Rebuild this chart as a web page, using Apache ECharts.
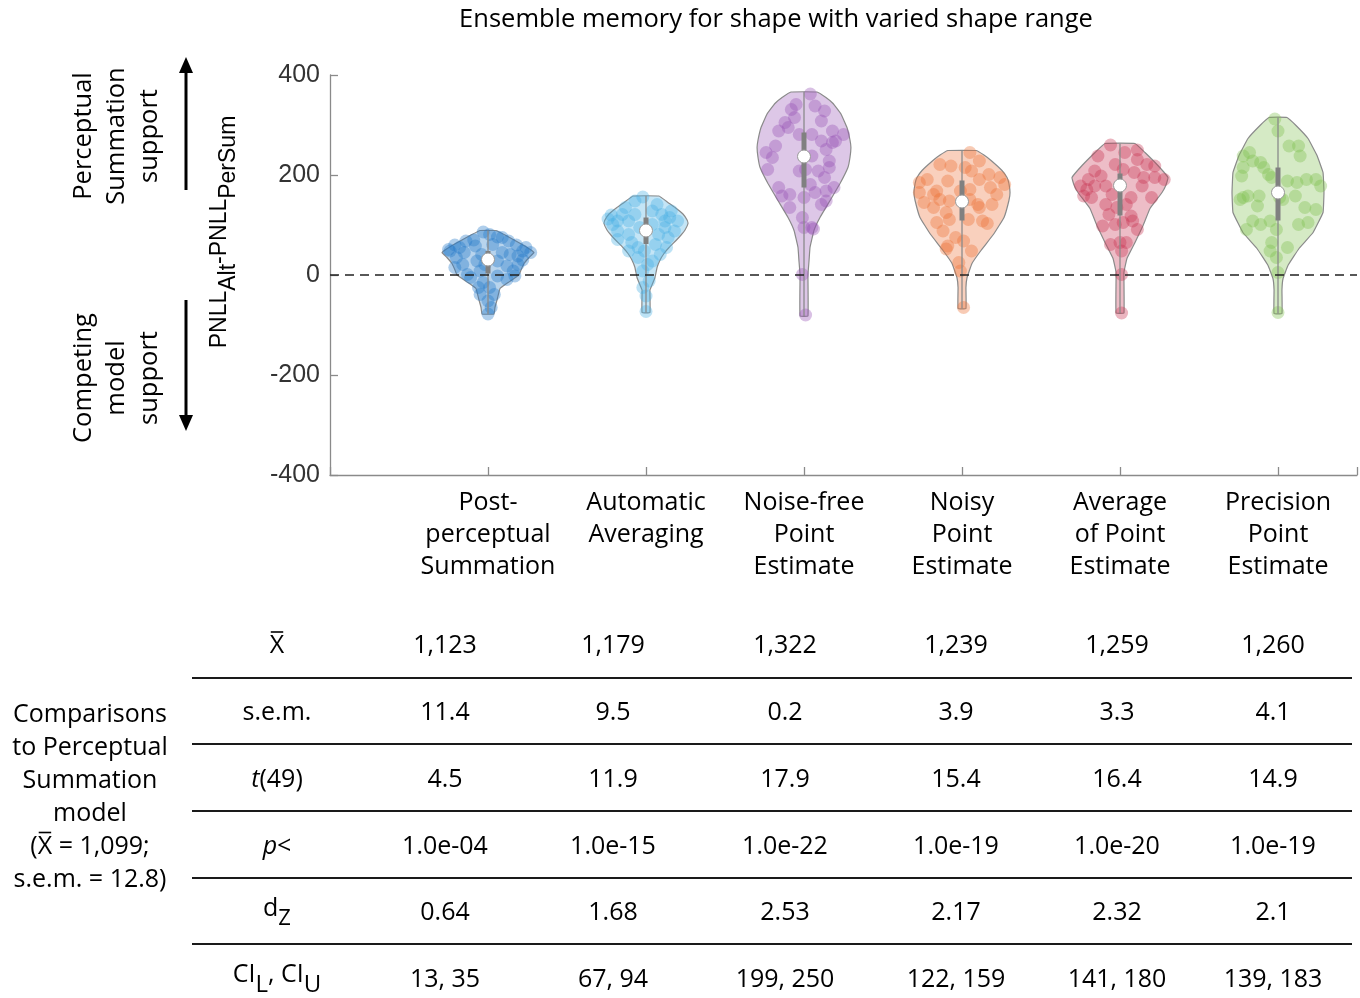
<!DOCTYPE html>
<html>
<head>
<meta charset="utf-8">
<script src="https://cdn.jsdelivr.net/npm/echarts@6.0.0/dist/echarts.min.js"></script>
<style>
html,body{margin:0;padding:0;background:#fff;}
#chart{width:1360px;height:998px;}
</style>
</head>
<body>
<div id="chart"></div>
<script>
// ---------------- DATA ----------------
const chartTitle = 'Ensemble memory for shape with varied shape range';
const categories = ['Post-\nperceptual\nSummation', 'Automatic\nAveraging', 'Noise-free\nPoint\nEstimate',
  'Noisy\nPoint\nEstimate', 'Average\nof Point\nEstimate', 'Precision\nPoint\nEstimate'];
const yTicks = [-400, -200, 0, 200, 400];

// violin outlines: density levels (y values) and half widths (x-axis units)
const violinLevels = [
  [89, 80, 70, 60, 50, 45, 35, 23, 10, 0, -15, -27, -50, -65, -78],
  [158, 145, 135, 122, 110, 103, 90, 80, 69, 55, 43, 30, 15, -5, -20, -30, -75],
  [366, 355, 343, 322, 295, 270, 255, 235, 215, 183, 149, 115, 89, 55, 29, 0, -82],
  [249, 240, 229, 209, 195, 183, 165, 149, 115, 83, 49, 23, -5, -25, -67],
  [263, 245, 219, 195, 180, 165, 133, 99, 65, 33, 5, -76],
  [315, 299, 273, 239, 205, 165, 125, 85, 53, 19, -7, -30, -77]
];
const violinHalfWidths = [
  [0.05, 0.108, 0.165, 0.222, 0.272, 0.291, 0.26, 0.228, 0.209, 0.196, 0.127, 0.076, 0.057, 0.044, 0.038],
  [0.082, 0.139, 0.184, 0.234, 0.26, 0.266, 0.247, 0.222, 0.19, 0.146, 0.114, 0.089, 0.07, 0.057, 0.038, 0.025, 0.025],
  [0.082, 0.139, 0.184, 0.234, 0.272, 0.291, 0.297, 0.291, 0.278, 0.228, 0.165, 0.101, 0.063, 0.038, 0.032, 0.025, 0.025],
  [0.089, 0.139, 0.184, 0.253, 0.285, 0.297, 0.304, 0.297, 0.266, 0.203, 0.12, 0.063, 0.032, 0.025, 0.025],
  [0.095, 0.158, 0.24, 0.304, 0.291, 0.266, 0.19, 0.146, 0.095, 0.044, 0.025, 0.025],
  [0.057, 0.114, 0.19, 0.247, 0.285, 0.291, 0.285, 0.222, 0.133, 0.063, 0.032, 0.025, 0.025]
];
// box summaries
const q1Values = [3, 62, 175, 109, 119, 109];
const medianValues = [31, 89, 237, 147, 179, 165];
const q3Values = [48, 115, 285, 189, 203, 215];
const minValues = [-78, -75, -82, -67, -76, -77];
const maxValues = [89, 158, 366, 249, 263, 315];

// individual participants: [jitter (x units), value]
const pointsPostPerceptual = [[-0.03,86],[0.01,81],[0.06,76],[-0.09,70],[-0.21,60],[-0.18,55],[-0.24,48],[-0.15,45],[-0.08,58],[0.13,68],[0.18,60],[0.22,48],[0.27,45],[0.14,41],[0.09,45],[0.06,28],[-0.07,28],[-0.16,21],[-0.21,15],[0.12,18],[0.19,21],[0.22,30],[-0.05,8],[-0.11,-5],[0.06,-2],[0.12,-9],[-0.03,-15],[-0.06,-25],[0.01,-25],[-0.05,-39],[0.04,-39],[0,-52],[0.02,-65],[0,-78],[-0.13,1],[-0.2,35],[0.16,8],[0.03,61],[-0.04,41],[-0.25,51],[0.24,55],[0.09,75],[-0.14,68],[0.19,38],[-0.02,21],[0.17,-2]];
const pointsAutomatic = [[-0.02,156],[-0.22,120],[-0.18,108],[-0.18,88],[-0.11,81],[-0.09,65],[-0.05,55],[-0.11,48],[0.04,128],[0.1,121],[0.15,115],[0.2,108],[0.12,95],[0.08,81],[0.14,75],[0.18,88],[-0.07,121],[-0.13,135],[-0.24,112],[0.04,101],[0.06,61],[-0.05,35],[0.01,21],[-0.02,8],[0.02,-12],[0,-42],[0,-73],[-0.18,71],[-0.11,108],[0.09,41],[0.13,55],[-0.04,95],[0.07,141],[-0.21,101],[-0.07,148],[0.16,128],[0.04,28],[-0.15,121],[0.12,108],[-0.01,48],[-0.02,-25]];
const pointsNoiseFree = [[0.04,362],[-0.08,331],[-0.05,341],[0.07,338],[0.13,328],[-0.12,305],[-0.16,288],[-0.1,295],[-0.03,281],[0.05,281],[0.11,268],[0.18,265],[0.2,268],[0.25,281],[0.18,288],[-0.24,245],[-0.2,235],[-0.23,211],[-0.16,175],[-0.09,161],[0,155],[0.07,165],[0.14,168],[0.16,228],[0.16,215],[0.13,195],[0.05,238],[-0.03,208],[0.01,211],[0.09,208],[-0.09,135],[-0.01,115],[0,95],[0.05,95],[0.06,92],[0.11,141],[-0.01,1],[0.01,-80],[-0.18,258],[0.19,175],[0.04,181],[-0.14,158],[0.14,251],[-0.06,315],[0.11,308],[0.14,148]];
const pointsNoisy = [[0.05,245],[-0.14,221],[-0.07,218],[0.02,215],[0.06,208],[0.11,228],[-0.27,185],[-0.22,191],[-0.09,188],[-0.16,168],[-0.14,151],[-0.18,135],[-0.24,145],[-0.1,125],[-0.08,111],[0.05,171],[0.11,191],[0.18,175],[0.24,195],[0.27,181],[0.1,141],[0.19,141],[0.13,108],[0.16,103],[0.04,111],[0.05,151],[-0.12,88],[-0.09,58],[-0.1,52],[-0.04,75],[0.06,48],[-0.02,25],[-0.01,8],[0.01,-65],[-0.18,161],[-0.01,168],[0.17,201],[0.22,161],[-0.08,148],[0.11,135],[0.01,68],[-0.16,105],[-0.27,165]];
const pointsAverage = [[-0.06,260],[0.11,250],[0.03,245],[-0.14,238],[0.17,221],[0.22,218],[-0.03,221],[-0.16,208],[-0.12,198],[0.09,205],[0.02,211],[0.15,195],[0.22,195],[0.28,191],[-0.21,171],[-0.23,158],[-0.18,155],[-0.09,178],[0.07,155],[0.2,155],[0.04,141],[-0.09,141],[0.07,118],[-0.07,121],[-0.03,101],[-0.11,98],[0.02,105],[0.08,108],[-0.06,61],[0,65],[0.01,48],[0.04,65],[0.11,91],[0.01,1],[0.01,-76],[-0.05,161],[0.14,178],[-0.16,178],[-0.02,135],[-0.25,178],[-0.2,191],[0.11,231]];
const pointsPrecision = [[-0.02,312],[0,288],[0.07,258],[0.13,258],[0.14,238],[-0.18,245],[-0.16,228],[-0.11,225],[-0.22,215],[-0.23,198],[-0.09,215],[-0.06,201],[-0.04,195],[0.06,188],[0.12,185],[0.18,191],[0.24,191],[-0.19,158],[-0.12,158],[-0.24,151],[-0.22,155],[0.03,151],[0.01,155],[0.11,158],[0.17,135],[0.24,131],[-0.16,108],[-0.11,101],[-0.05,108],[-0.2,91],[-0.01,91],[0.13,101],[0.19,105],[-0.04,65],[0.06,55],[-0.05,48],[-0.01,35],[0,5],[0,-75],[-0.13,138],[0.27,178],[-0.22,238]];
const pointGroups = [pointsPostPerceptual, pointsAutomatic, pointsNoiseFree, pointsNoisy, pointsAverage, pointsPrecision];

// table
const tableMeans = ['1,123', '1,179', '1,322', '1,239', '1,259', '1,260'];
const tableSEM = ['11.4', '9.5', '0.2', '3.9', '3.3', '4.1'];
const tableT = ['4.5', '11.9', '17.9', '15.4', '16.4', '14.9'];
const tableP = ['1.0e-04', '1.0e-15', '1.0e-22', '1.0e-19', '1.0e-20', '1.0e-19'];
const tableDz = ['0.64', '1.68', '2.53', '2.17', '2.32', '2.1'];
const tableCI = ['13, 35', '67, 94', '199, 250', '122, 159', '141, 180', '139, 183'];
const comparisonLines = ['Comparisons', 'to Perceptual', 'Summation', 'model', '(X = 1,099;', 's.e.m. = 12.8)'];

// ---------------- STYLE ----------------
const FONT = '"Open Sans", "Noto Sans", sans-serif';
const AXFONT = '"Liberation Sans", Arial, sans-serif';
const baseColors = ['33,120,200', '70,175,228', '150,80,180', '235,110,50', '200,50,80', '125,190,75'];

const chart = echarts.init(document.getElementById('chart'), null, {renderer: 'canvas'});

const violinSeries = {
  type: 'custom', name: 'violins', z: 1, clip: false, silent: true,
  data: categories.map((c, i) => [i + 1, medianValues[i]]),
  encode: {x: 0, y: 1},
  renderItem: function (params, api) {
    const i = params.dataIndex, cx = i + 1;
    const lv = violinLevels[i], hw = violinHalfWidths[i];
    const right = lv.map((v, k) => api.coord([cx + hw[k], v]));
    const left = lv.map((v, k) => api.coord([cx - hw[k], v])).reverse();
    return {
      type: 'polygon',
      shape: {points: right.concat(left), smooth: 0.08},
      style: {fill: 'rgba(' + baseColors[i] + ',0.32)', stroke: '#8a8a8a', lineWidth: 1.2}
    };
  },
  markLine: {
    silent: true, symbol: 'none', label: {show: false},
    lineStyle: {color: '#222', type: [9, 6], width: 1.6},
    data: [{yAxis: 0}]
  }
};

const scatterSeries = pointGroups.map((pts, i) => ({
  type: 'scatter', z: 2, silent: true,
  symbolSize: 13,
  itemStyle: {color: 'rgba(' + baseColors[i] + ',0.45)'},
  data: pts.map(p => [i + 1 + p[0], p[1]])
}));

const boxSeries = {
  type: 'custom', name: 'box', z: 3, clip: false, silent: true,
  data: categories.map((c, i) => [i + 1, minValues[i], q1Values[i], medianValues[i], q3Values[i], maxValues[i]]),
  encode: {x: 0, y: [1, 5]},
  renderItem: function (params, api) {
    const x = api.value(0);
    const pMin = api.coord([x, api.value(1)]);
    const pQ1 = api.coord([x, api.value(2)]);
    const pMed = api.coord([x, api.value(3)]);
    const pQ3 = api.coord([x, api.value(4)]);
    const pMax = api.coord([x, api.value(5)]);
    return {
      type: 'group',
      children: [
        {type: 'line', shape: {x1: pMin[0], y1: pMin[1], x2: pMax[0], y2: pMax[1]}, style: {stroke: '#8a8a8a', lineWidth: 1.3}},
        {type: 'line', shape: {x1: pQ1[0], y1: pQ1[1], x2: pQ3[0], y2: pQ3[1]}, style: {stroke: '#808080', lineWidth: 5}},
        {type: 'circle', shape: {cx: pMed[0], cy: pMed[1], r: 6.5}, style: {fill: '#fff', stroke: '#9a9a9a', lineWidth: 1}}
      ]
    };
  }
};

// ---------------- GRAPHIC (annotations + table) ----------------
const g = [];
const measureCtx = document.createElement('canvas').getContext('2d');
function textWidth(s, size) {
  measureCtx.font = size + 'px ' + FONT;
  return measureCtx.measureText(s).width;
}
function txt(x, y, text, opt) {
  opt = opt || {};
  g.push({
    type: 'text', x: x, y: y, rotation: opt.rotation || 0, silent: true,
    style: Object.assign({
      text: text, fill: opt.fill || '#111', fontFamily: opt.fontFamily || FONT,
      fontSize: opt.fontSize || 25, align: opt.align || 'center', verticalAlign: 'middle',
      lineHeight: opt.lineHeight
    }, opt.extra || {})
  });
}
function overline(x1, x2, y) {
  g.push({type: 'line', silent: true, shape: {x1: x1, y1: y, x2: x2, y2: y}, style: {stroke: '#000', lineWidth: 1.6}});
}
// title
txt(776, 20, chartTitle, {fontSize: 25.5, fill: '#000'});
// left side annotations
txt(117, 136, 'Perceptual\nSummation\nsupport', {rotation: Math.PI / 2, fontSize: 25.5, lineHeight: 33, fill: '#000'});
txt(117, 378, 'Competing\nmodel\nsupport', {rotation: Math.PI / 2, fontSize: 25.5, lineHeight: 33, fill: '#000'});
// y axis name with subscripts
g.push({
  type: 'text', x: 224, y: 232, rotation: Math.PI / 2, silent: true,
  style: {
    text: '{m|PNLL}{s|Alt}{m|-PNLL}{s|PerSum}', align: 'center', verticalAlign: 'middle',
    rich: {
      m: {fontSize: 23, fontFamily: AXFONT, fill: '#000', padding: [0, 0, 9, 0], verticalAlign: 'bottom'},
      s: {fontSize: 23, fontFamily: AXFONT, fill: '#000', verticalAlign: 'bottom'}
    }
  }
});
// arrows
g.push({type: 'line', silent: true, shape: {x1: 186, y1: 190, x2: 186, y2: 70}, style: {stroke: '#000', lineWidth: 3}});
g.push({type: 'polygon', silent: true, shape: {points: [[186, 57], [179, 73], [193, 73]]}, style: {fill: '#000'}});
g.push({type: 'line', silent: true, shape: {x1: 186, y1: 300, x2: 186, y2: 418}, style: {stroke: '#000', lineWidth: 3}});
g.push({type: 'polygon', silent: true, shape: {points: [[186, 431], [179, 415], [193, 415]]}, style: {fill: '#000'}});

// table
const colX = [445, 613, 785, 956, 1117, 1273];
const rowY = [646, 713, 780, 847, 913, 980];
const labelX = 277;
const tableRows = [tableMeans, tableSEM, tableT, tableP, tableDz, tableCI];
tableRows.forEach((row, r) => row.forEach((v, c) => txt(colX[c], rowY[r], v, {fill: '#000'})));
[678, 744, 811, 878, 944].forEach(y => g.push({type: 'line', silent: true, shape: {x1: 192, y1: y, x2: 1352, y2: y}, style: {stroke: '#1a1a1a', lineWidth: 2}}));
// row labels
txt(labelX, rowY[0], 'X', {fill: '#000'});
const wX = textWidth('X', 25);
overline(labelX - wX / 2 + 1, labelX + wX / 2 - 1, rowY[0] - 14);
txt(labelX, rowY[1], 's.e.m.', {fill: '#000'});
function richLabel(y, text, rich) {
  g.push({type: 'text', x: labelX, y: y, silent: true,
    style: {text: text, align: 'center', verticalAlign: 'middle', rich: rich}});
}
const rn = {fontSize: 25, fontFamily: FONT, fill: '#000'};
richLabel(rowY[2], '{i|t}{n|(49)}', {i: Object.assign({fontStyle: 'italic'}, rn), n: rn});
richLabel(rowY[3], '{i|p}{n|<}', {i: Object.assign({fontStyle: 'italic'}, rn), n: rn});
richLabel(rowY[4], '{m|d}{s|Z}', {
  m: Object.assign({padding: [0, 0, 8, 0], verticalAlign: 'bottom'}, rn),
  s: Object.assign({}, rn, {fontSize: 22, verticalAlign: 'bottom'})
});
richLabel(rowY[5], '{m|CI}{s|L}{m|, CI}{s|U}', {
  m: Object.assign({padding: [0, 0, 10, 0], verticalAlign: 'bottom'}, rn),
  s: Object.assign({}, rn, {fontSize: 24, verticalAlign: 'bottom'})
});
// left comparison block
const compCenterX = 90, compCenterY = 797, compLH = 33;
txt(compCenterX, compCenterY, comparisonLines.join('\n'), {lineHeight: compLH, fill: '#000'});
// overline on the X of "(X = 1,099;"
(function () {
  const k = comparisonLines.findIndex(s => s.indexOf('(X') === 0);
  const line = comparisonLines[k];
  const lineY = compCenterY + (k - (comparisonLines.length - 1) / 2) * compLH;
  const start = compCenterX - textWidth(line, 25) / 2;
  const xs = start + textWidth('(', 25);
  overline(xs + 1, xs + textWidth('X', 25) - 1, lineY - 14);
})();

// ---------------- OPTION ----------------
const option = {
  backgroundColor: '#fff',
  animation: false,
  grid: {left: 330, top: 75, width: 1027, height: 400, containLabel: false},
  xAxis: {
    type: 'value', min: 0, max: 6.5, interval: 1,
    axisLine: {show: true, onZero: false, lineStyle: {color: '#8a8a8a', width: 1.3}},
    axisTick: {show: true, inside: true, length: 8, lineStyle: {color: '#8a8a8a', width: 1.3}},
    splitLine: {show: false},
    axisLabel: {
      margin: 12, fontFamily: FONT, fontSize: 25, lineHeight: 32, color: '#000',
      formatter: v => (v >= 1 && v <= 6 && Number.isInteger(v)) ? categories[v - 1] : ''
    }
  },
  yAxis: {
    type: 'value', min: yTicks[0], max: yTicks[yTicks.length - 1], interval: 200,
    axisLine: {show: true, lineStyle: {color: '#8a8a8a', width: 1.3}},
    axisTick: {show: true, inside: true, length: 8, lineStyle: {color: '#8a8a8a', width: 1.3}},
    splitLine: {show: false},
    axisLabel: {margin: 10, fontFamily: AXFONT, fontSize: 25, color: '#333'}
  },
  series: [violinSeries].concat(scatterSeries, [boxSeries]),
  graphic: g
};
chart.setOption(option);
</script>
</body>
</html>
